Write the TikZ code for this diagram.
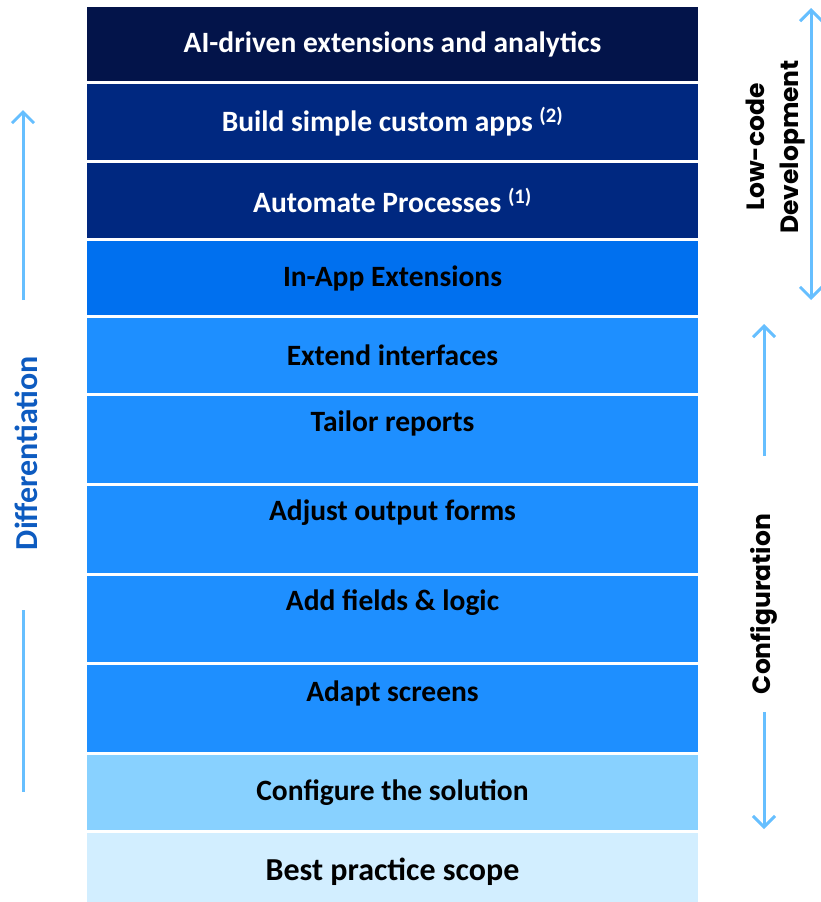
\documentclass[tikz,border=0pt]{standalone}
\usepackage{fontspec}
\setmainfont{Carlito}
\newfontfamily\geofont{Poppins}
\usetikzlibrary{arrows.meta}
\definecolor{navyA}{HTML}{03144A}
\definecolor{navyB}{HTML}{002880}
\definecolor{blueA}{HTML}{0070EF}
\definecolor{blueB}{HTML}{1E8FFF}
\definecolor{blueC}{HTML}{88D1FF}
\definecolor{blueD}{HTML}{D2EEFF}
\definecolor{arrowblue}{HTML}{66BFFF}
\definecolor{diffblue}{HTML}{0D5BC0}

\begin{document}
\begin{tikzpicture}
[
    x=1pt, y=-1pt,
    layer/.style={rectangle, inner sep=0pt, minimum width=611pt},
    layertext/.style={font=\fontsize{29.5}{32}\selectfont\bfseries},
    sidetext/.style={font=\geofont\fontsize{25}{34}\selectfont\bfseries, rotate=90, align=center},
    sidearrow/.style={draw=arrowblue, line width=3pt, -{Straight Barb[length=11pt,width=22pt,line width=3pt]}},
]
\useasboundingbox (0,0) rectangle (820,902);
\node [layer, fill=navyA, minimum height=74pt, text=white, layertext] (ai) at (392.5,44) {AI-driven extensions and analytics};
\node [layer, fill=navyB, minimum height=76pt, text=white, layertext] (apps) at (392.5,122) {Build simple custom apps \textsuperscript{(2)}};
\node [layer, fill=navyB, minimum height=75pt, text=white, layertext] (auto) at (392.5,200.5) {Automate Processes \textsuperscript{(1)}};
\node [layer, fill=blueA, minimum height=74pt, layertext] (inapp) at (392.5,278) {In-App Extensions};
\node [layer, fill=blueB, minimum height=75pt, layertext] (ifaces) at (392.5,355.5) {Extend interfaces};
\node [layer, fill=blueB, minimum height=87pt] (reports) at (392.5,439.5) {};
\node [layer, fill=blueB, minimum height=87pt] (forms) at (392.5,529.5) {};
\node [layer, fill=blueB, minimum height=86pt] (fields) at (392.5,619) {};
\node [layer, fill=blueB, minimum height=87pt] (screens) at (392.5,708.5) {};
\node [layer, fill=blueC, minimum height=75pt, layertext] (config) at (392.5,792.5) {Configure the solution};
\node [layer, fill=blueD, minimum height=70pt] (scope) at (392.5,868) {};

\node [layertext] (reportstext) at (392.5,423) {Tailor reports};
\node [layertext] (formstext) at (392.5,513) {Adjust output forms};
\node [layertext] (fieldstext) at (392.5,603) {Add fields \& logic};
\node [layertext] (screenstext) at (392.5,693) {Adapt screens};
\node [font=\fontsize{32}{35}\selectfont\bfseries] (scopetext) at (392.5,872) {Best practice scope};

\node [font=\fontsize{32}{35}\selectfont\bfseries, text=diffblue, rotate=90] (diff) at (26,453) {Differentiation};
\coordinate (diffup) at (23,110);
\coordinate (difftop) at (23,300);
\coordinate (diffbot) at (23,792);
\coordinate (difflow) at (23,610);
\draw [sidearrow] (difftop) -- (diffup);
\draw [draw=arrowblue, line width=3pt] (difflow) -- (diffbot);

\node [sidetext] (lowcode) at (776,147) {Low-code\\Development};
\coordinate (lctop) at (811,8);
\coordinate (lcbot) at (811,300);
\draw [sidearrow, {Straight Barb[length=11pt,width=22pt,line width=3pt]}-{Straight Barb[length=11pt,width=22pt,line width=3pt]}] (lctop) -- (lcbot);

\node [sidetext] (configlabel) at (764,604) {Configuration};
\coordinate (cfgup) at (764,324);
\coordinate (cfgmid) at (764,456);
\coordinate (cfglow) at (764,712);
\coordinate (cfgdown) at (764,829);
\draw [sidearrow] (cfgmid) -- (cfgup);
\draw [sidearrow] (cfglow) -- (cfgdown);
\end{tikzpicture}
\end{document}
